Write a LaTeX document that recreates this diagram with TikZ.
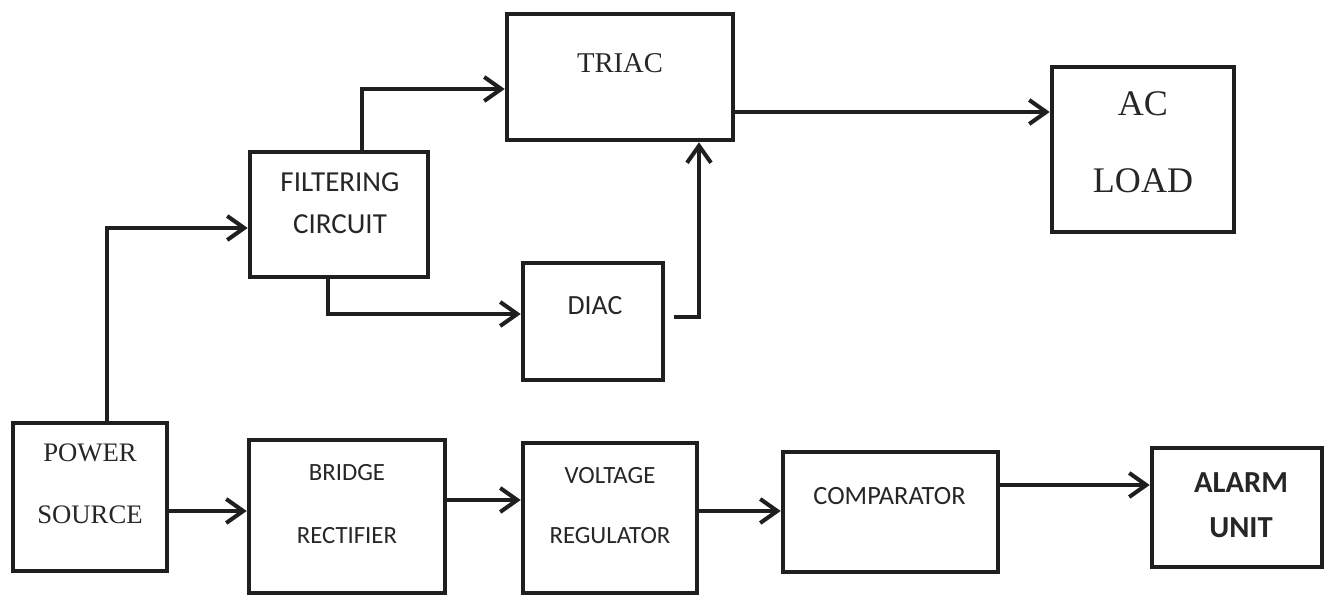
\documentclass[tikz,border=0pt]{standalone}
\usepackage{fontspec}
\setmainfont{Liberation Serif}
\newfontfamily\calib{Carlito}
\usetikzlibrary{positioning,arrows.meta}

\begin{document}
\begin{tikzpicture}[
		blk/.style={draw=black!88, line width=2.6pt, rectangle, inner sep=0pt},
		sertxt/.style={align=center, inner sep=0pt, text=black!85},
		santxt/.style={align=center, inner sep=0pt, text=black!85, font=\calib},
		ar/.style={-{Straight Barb[length=3.4mm, width=4.8mm]}, line width=2.3pt, draw=black!88},
	]
	\useasboundingbox (0,0) rectangle (26.52,11.94);
	% boxes
	\node[blk, minimum width=4.52cm, minimum height=2.52cm] (triac) at (12.40, 10.40) {};
	\node[blk, minimum width=3.56cm, minimum height=2.50cm] (filt)  at (6.78, 7.65) {};
	\node[blk, minimum width=2.80cm, minimum height=2.34cm] (diac)  at (11.86, 5.51) {};
	\node[blk, minimum width=3.64cm, minimum height=3.30cm] (load)  at (22.86, 8.95) {};
	\node[blk, minimum width=3.08cm, minimum height=2.96cm] (pwr)   at (1.80, 2.00) {};
	\node[blk, minimum width=3.92cm, minimum height=3.06cm] (brdg)  at (6.94, 1.61) {};
	\node[blk, minimum width=3.48cm, minimum height=3.00cm] (vreg)  at (12.20, 1.58) {};
	\node[blk, minimum width=4.30cm, minimum height=2.40cm] (comp)  at (17.81, 1.70) {};
	\node[blk, minimum width=3.40cm, minimum height=2.38cm] (alarm) at (24.74, 1.79) {};
	% texts
	\node[sertxt, font=\fontsize{16.3}{19}\selectfont] (triac-t) at (12.40, 10.68) {TRIAC};
	\node[santxt, font=\calib\fontsize{16.5}{23.8}\selectfont] (filt-t) at (6.80, 7.87) {FILTERING\\CIRCUIT};
	\node[santxt, font=\calib\fontsize{15.8}{19}\selectfont] (diac-t) at (11.90, 5.82) {DIAC};
	\node[sertxt, font=\fontsize{20.5}{43.7}\selectfont] (load-t) at (22.86, 9.10) {AC\\LOAD};
	\node[sertxt, font=\fontsize{15.2}{35}\selectfont] (pwr-t) at (1.80, 2.26) {POWER\\SOURCE};
	\node[santxt, font=\calib\fontsize{14.1}{36}\selectfont] (brdg-t) at (6.94, 1.86) {BRIDGE\\RECTIFIER};
	\node[santxt, font=\calib\fontsize{14.1}{34.6}\selectfont] (vreg-t) at (12.20, 1.83) {VOLTAGE\\REGULATOR};
	\node[santxt, font=\calib\fontsize{15}{18}\selectfont] (comp-t) at (17.79, 2.01) {COMPARATOR};
	\node[santxt, font=\calib\bfseries\fontsize{17.4}{25.5}\selectfont] (alarm-t) at (24.82, 1.83) {ALARM\\UNIT};
	% upper branch
	\draw[ar] ([xshift=0.34cm]pwr.north) |- ([yshift=-0.27cm]filt.west);
	\draw[ar] ([xshift=0.46cm]filt.north) |- ([yshift=-0.24cm]triac.west);
	\draw[ar] ([xshift=-0.22cm]filt.south) |- ([yshift=0.15cm]diac.west);
	\draw[ar] ([xshift=0.18cm, yshift=0.09cm]diac.east) -| ([xshift=1.58cm]triac.south);
	\draw[ar] ([yshift=-0.70cm]triac.east) -- ([yshift=-0.70cm]triac.east -| load.west);
	% lower chain
	\draw[ar] ([yshift=-0.28cm]pwr.east) -- ([yshift=-0.28cm]pwr.east -| brdg.west);
	\draw[ar] ([yshift=0.33cm]brdg.east) -- ([yshift=0.33cm]brdg.east -| vreg.west);
	\draw[ar] ([yshift=0.14cm]vreg.east) -- ([yshift=0.14cm]vreg.east -| comp.west);
	\draw[ar] ([yshift=0.54cm]comp.east) -- ([yshift=0.54cm]comp.east -| alarm.west);
\end{tikzpicture}
\end{document}
